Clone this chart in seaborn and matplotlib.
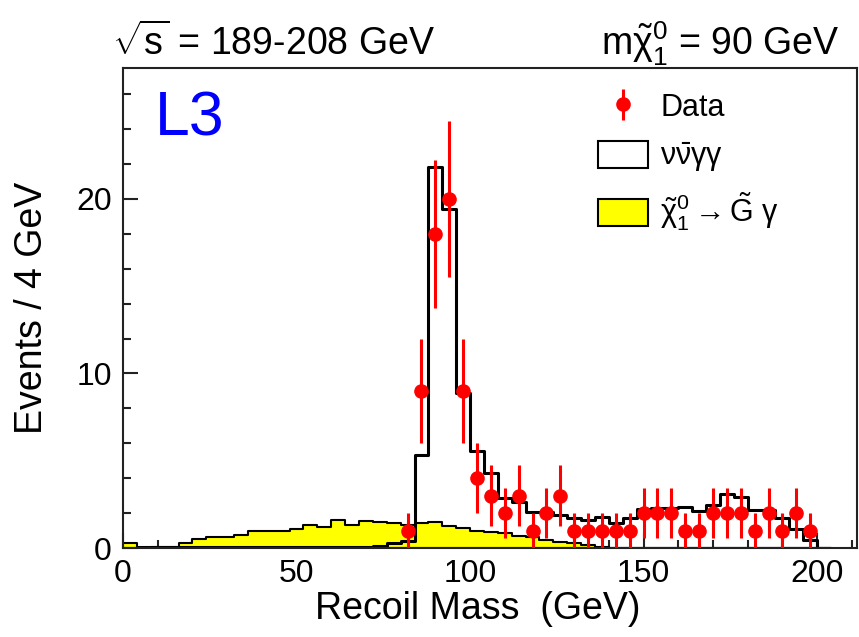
import numpy as np
import pandas as pd
import matplotlib
matplotlib.use("Agg")
import matplotlib.pyplot as plt
import seaborn as sns
from matplotlib.patches import Patch
from matplotlib.ticker import MultipleLocator

# histogram binning: 4 GeV bins from 0 to 204 GeV
edges = list(range(0, 208, 4))
centers = [e + 2 for e in edges[:-1]]

# signal chi -> G gamma (m = 90 GeV), per bin
signal = [0.30, 0.00, 0.03, 0.08, 0.27, 0.50, 0.65, 0.65, 0.74, 0.99,
          0.99, 0.99, 1.08, 1.32, 1.18, 1.60, 1.30, 1.56, 1.50, 1.45,
          1.32, 1.42, 1.48, 1.26, 1.12, 0.99, 0.92, 0.84, 0.71, 0.61,
          0.46, 0.36, 0.27, 0.15, 0.05, 0, 0, 0, 0, 0,
          0, 0, 0, 0, 0, 0, 0, 0, 0, 0, 0]

# nu nubar gamma gamma background, per bin
background = [0.00, 0.03, 0.03, 0.03, 0.03, 0.03, 0.03, 0.03, 0.03, 0.03,
              0.03, 0.03, 0.03, 0.03, 0.03, 0.03, 0.03, 0.03, 0.10, 0.30,
              0.40, 5.33, 21.8, 19.4, 8.90, 5.55, 4.30, 2.85, 2.65, 2.08,
              2.08, 1.89, 1.70, 1.60, 1.76, 1.45, 1.70, 2.25, 2.30, 2.30,
              2.33, 2.12, 2.46, 3.08, 2.94, 2.18, 2.15, 1.70, 1.09, 0.46, 0]

# data points
data_mass = [82, 86, 90, 94, 98, 102, 106, 110, 114, 118,
             122, 126, 130, 134, 138, 142, 146, 150, 154, 158,
             162, 166, 170, 174, 178, 182, 186, 190, 194, 198]
data_counts = [1, 9, 18, 20, 9, 4, 3, 2, 3, 1,
               2, 3, 1, 1, 1, 1, 1, 2, 2, 2,
               1, 1, 2, 2, 2, 1, 2, 1, 2, 1]

hist = pd.DataFrame({'mass': centers, 'signal': signal, 'background': background})

sns.set_theme(style="ticks")
plt.rcParams['font.family'] = ['Liberation Sans', 'DejaVu Sans']
plt.rcParams['mathtext.fontset'] = 'custom'
plt.rcParams['mathtext.rm'] = 'Liberation Sans'
plt.rcParams['mathtext.it'] = 'Liberation Sans:italic'
plt.rcParams['mathtext.default'] = 'regular'
plt.rcParams['text.color'] = 'black'
plt.rcParams['axes.labelcolor'] = 'black'
plt.rcParams['xtick.color'] = 'black'
plt.rcParams['ytick.color'] = 'black'

fig = plt.figure(figsize=(8.59, 6.37), dpi=100)
ax = fig.add_axes([123 / 859, 89 / 637, 734 / 859, 480 / 637])

sns.histplot(data=hist, x='mass', weights='signal', bins=edges, element='step', fill=True,
             color='yellow', alpha=1, edgecolor='black', linewidth=1.5, ax=ax)
sns.histplot(data=hist, x='mass', weights='background', bins=edges, element='step', fill=False,
             color='black', linewidth=2.2, ax=ax)
data_err = ax.errorbar(data_mass, data_counts, yerr=np.sqrt(data_counts), fmt='o',
                       color='red', ms=9.5, elinewidth=2.2, capsize=0, zorder=5)

ax.set_xlim(0, 211.5)
ax.set_ylim(0, 27.5)
ax.xaxis.set_major_locator(MultipleLocator(50))
ax.xaxis.set_minor_locator(MultipleLocator(10))
ax.yaxis.set_major_locator(MultipleLocator(10))
ax.yaxis.set_minor_locator(MultipleLocator(2))
ax.tick_params(which='both', direction='in', top=False, right=False, color='#222222', width=1.5)
ax.tick_params(which='major', length=11, labelsize=23)
ax.tick_params(which='minor', length=6)
ax.tick_params(axis='x', pad=8)
ax.tick_params(axis='y', pad=8)
for s in ax.spines.values():
    s.set_linewidth(1.5)
    s.set_color('#222222')

ax.set_xlabel('Recoil Mass  (GeV)', fontsize=27)
ax.set_ylabel('Events / 4 GeV', fontsize=27)
ax.xaxis.set_label_coords((478 - 123) / 734, -0.09)
ax.yaxis.set_label_coords(-0.10, 0.5)

ax.text(0.043, 0.86, 'L3', color='blue', fontsize=45, transform=ax.transAxes, va='baseline')

handles = [data_err,
           Patch(facecolor='white', edgecolor='black', linewidth=1.5),
           Patch(facecolor='yellow', edgecolor='black', linewidth=1.5)]
labels = ['Data', r'$\nu\bar{\nu}\gamma\gamma$',
          r'$\tilde{\chi}^0_1 \rightarrow \tilde{G}\ \gamma$']
ax.legend(handles, labels, loc='upper left', bbox_to_anchor=(0.63, 0.975), frameon=False,
          fontsize=22, handlelength=1.65, handleheight=1.0, handletextpad=0.4,
          labelspacing=0.55, borderaxespad=0)

fig.text(112 / 859, 1 - 55 / 637, r'$\sqrt{s}$ = 189-208 GeV', fontsize=27, va='baseline')
fig.text(840 / 859, 1 - 55 / 637, r'm$\tilde{\chi}^0_1$ = 90 GeV', fontsize=27,
         va='baseline', ha='right')

fig.savefig('out.png', dpi=100, facecolor='white')
